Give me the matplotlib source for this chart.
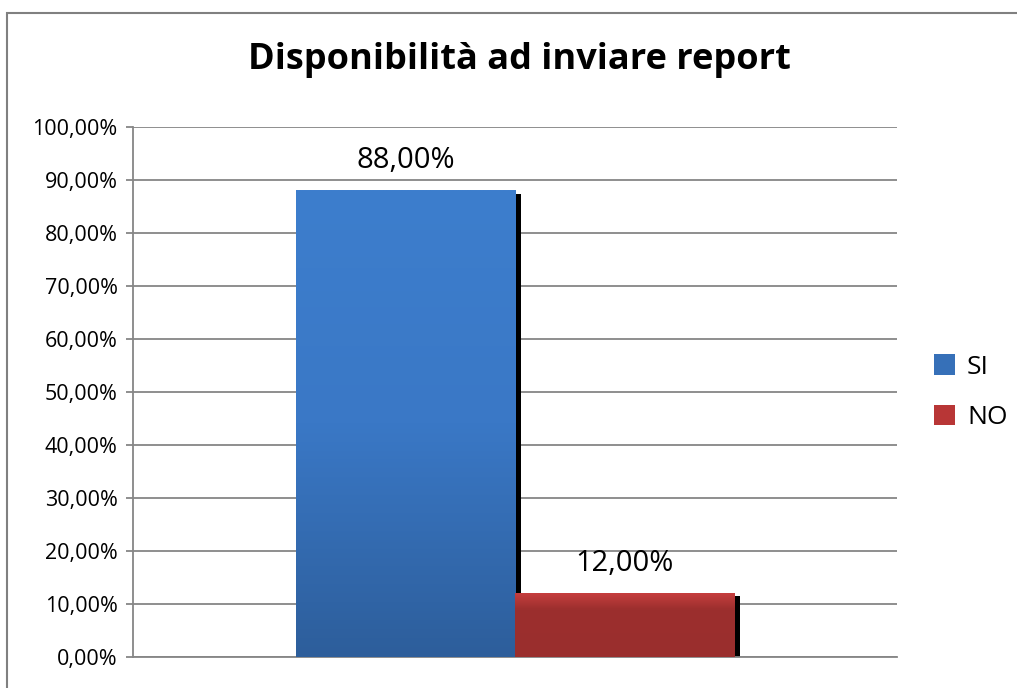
import matplotlib
matplotlib.use('Agg')
import numpy as np
from matplotlib import pyplot as plt
from matplotlib.colors import LinearSegmentedColormap
from matplotlib.patches import Patch, Rectangle
import matplotlib.patheffects as pe

# risposte al questionario
categories = ['SI', 'NO']
values = [88.0, 12.0]
yticks = [0, 10, 20, 30, 40, 50, 60, 70, 80, 90, 100]

plt.rcParams['font.family'] = ['Open Sans', 'DejaVu Sans']

# sfumature delle barre (dal basso verso l'alto)
gradients = [
    LinearSegmentedColormap.from_list('blu', ['#2d5e9b', '#3a78c6', '#3d7ecd']),
    LinearSegmentedColormap.from_list('rosso', [(0, '#9a2e2d'), (0.75, '#9c2f2e'), (1, '#c63e3e')]),
]
legend_colors = ['#3670b8', '#b83636']


def fmt(v):
    return '{:.2f}%'.format(v).replace('.', ',')


fig = plt.figure(figsize=(10.17, 6.88), dpi=100)
ax = fig.add_axes([0.1308, 0.045, 0.7512, 0.7706])

width = 0.287
xs = [0.5 - width / 2, 0.5 + width / 2]
shadow = [pe.SimplePatchShadow(offset=(4, -2.2), shadow_rgbFace='black', alpha=1.0), pe.Normal()]

for x, v, cmap, col in zip(xs, values, gradients, legend_colors):
    bar = ax.bar(x, v, width=width, color=col, zorder=2, path_effects=shadow)[0]
    grad = np.linspace(0, 1, 256).reshape(-1, 1)
    ax.imshow(grad, cmap=cmap, origin='lower', aspect='auto', zorder=3,
              extent=(x - width / 2, x + width / 2, 0, v))
    ax.annotate(fmt(v), (x, v), xytext=(0, 16), textcoords='offset points',
                ha='center', va='baseline', fontsize=21, color='black')

ax.set_xlim(0, 1)
ax.set_ylim(0, 100)
ax.set_yticks(yticks)
ax.set_yticklabels([fmt(t) for t in yticks], fontsize=15.5)
ax.set_xticks([])
ax.yaxis.grid(True, color='#868686', lw=1.3, zorder=0)
ax.set_axisbelow(True)
for s in ['top', 'right']:
    ax.spines[s].set_visible(False)
for s in ['left', 'bottom']:
    ax.spines[s].set_color('#868686')
    ax.spines[s].set_linewidth(1.3)
ax.tick_params(axis='y', direction='out', length=5, width=1.3, color='#868686', pad=6)

handles = [Patch(facecolor=c, edgecolor='none') for c in legend_colors]
fig.legend(handles, categories, loc='center left', bbox_to_anchor=(0.908, 0.43),
           frameon=False, fontsize=19, handlelength=0.8, handleheight=0.8,
           handletextpad=0.45, labelspacing=0.95, borderaxespad=0)

fig.text(0.511, 0.899, 'Disponibilità ad inviare report', ha='center', va='baseline',
         fontsize=26, fontweight='bold')

# cornice dell'area del grafico
fig.patches.append(Rectangle((0.0069, -0.1), 1.2, 1.0811, transform=fig.transFigure,
                             fill=False, edgecolor='#808080', lw=1.5))

fig.savefig('out.png', dpi=100)
